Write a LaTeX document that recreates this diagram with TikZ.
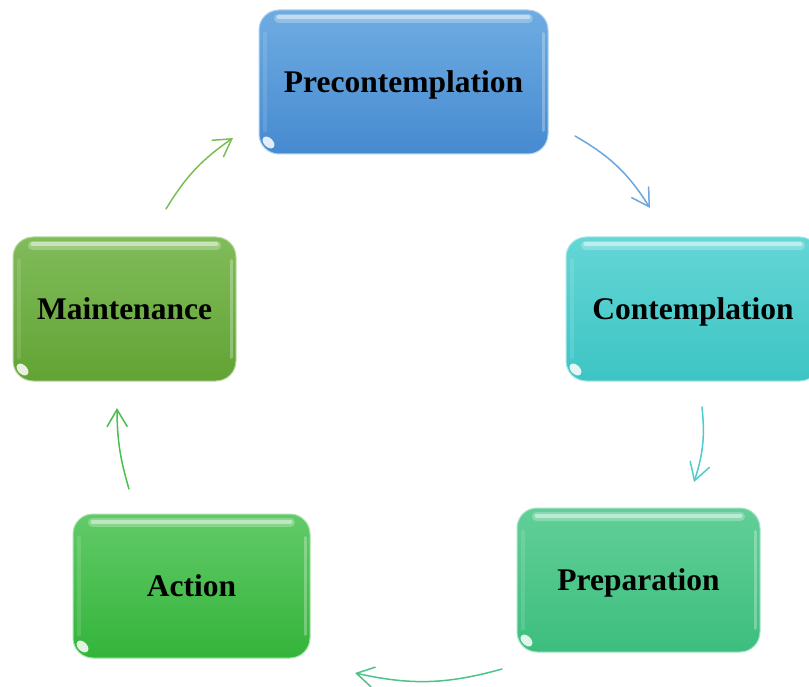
\documentclass[tikz,border=0pt]{standalone}
\usepackage{fontspec}
\setmainfont{Liberation Serif}
\usetikzlibrary{arrows.meta}

% stage colours (top / bottom of each glossy box)
\definecolor{preTop}{RGB}{110,172,226}
\definecolor{preBot}{RGB}{70,138,208}
\definecolor{conTop}{RGB}{100,214,214}
\definecolor{conBot}{RGB}{62,196,196}
\definecolor{prpTop}{RGB}{98,207,152}
\definecolor{prpBot}{RGB}{60,190,126}
\definecolor{actTop}{RGB}{98,202,104}
\definecolor{actBot}{RGB}{52,180,58}
\definecolor{mntTop}{RGB}{128,188,90}
\definecolor{mntBot}{RGB}{98,163,52}
% connector colours
\definecolor{arPre}{RGB}{110,166,222}
\definecolor{arCon}{RGB}{82,202,202}
\definecolor{arPrp}{RGB}{76,196,136}
\definecolor{arAct}{RGB}{72,192,78}
\definecolor{arMnt}{RGB}{124,190,86}

\tikzset{
  stage/.style={rounded corners=20pt, minimum height=144pt, inner sep=0pt,
    text height=21pt, text depth=0pt, line width=1pt,
    font=\fontsize{31.5}{36}\selectfont\bfseries},
  cyc/.style={line width=1.5pt, line cap=round,
    -{Straight Barb[length=17pt,width=20pt,line cap=round]}},
}

% glossy highlights on a stage box
\newcommand\stagegloss[1]{%
  \draw[white, opacity=.25, line width=9pt, line cap=round]
    ([xshift=20pt,yshift=-9pt]#1.north west) -- ([xshift=-20pt,yshift=-9pt]#1.north east);
  \draw[white, opacity=.45, line width=4pt, line cap=round]
    ([xshift=20pt,yshift=-8pt]#1.north west) -- ([xshift=-20pt,yshift=-8pt]#1.north east);
  \draw[white, opacity=.28, line width=3pt, line cap=round]
    ([xshift=-5pt,yshift=-24pt]#1.north east) -- ([xshift=-5pt,yshift=24pt]#1.south east);
  \draw[white, opacity=.12, line width=4pt, line cap=round]
    ([xshift=6pt,yshift=-24pt]#1.north west) -- ([xshift=6pt,yshift=24pt]#1.south west);
  \fill[white, opacity=.85, shift={([xshift=10pt,yshift=12pt]#1.south west)}, rotate=-45]
    (0,0) ellipse [x radius=7pt, y radius=4.5pt];
}

\begin{document}
\begin{tikzpicture}[x=1pt, y=-1pt]
\clip (0,0) rectangle (809,687);
\fill[white] (0,0) rectangle (809,687);

% stages
\node[stage, minimum width=289pt, top color=preTop, bottom color=preBot, draw=preTop!55!white]
  (pre) at (403.5,82) {Precontemplation};
\node[stage, minimum width=254pt, top color=conTop, bottom color=conBot, draw=conTop!55!white]
  (con) at (693,309) {Contemplation};
\node[stage, minimum width=243pt, top color=prpTop, bottom color=prpBot, draw=prpTop!55!white]
  (prp) at (638.5,580) {Preparation};
\node[stage, minimum width=237pt, top color=actTop, bottom color=actBot, draw=actTop!55!white]
  (act) at (191.5,586) {Action};
\node[stage, minimum width=223pt, top color=mntTop, bottom color=mntBot, draw=mntTop!55!white]
  (mnt) at (124.5,309) {Maintenance};

\stagegloss{pre}
\stagegloss{con}
\stagegloss{prp}
\stagegloss{act}
\stagegloss{mnt}

% connector ends around the cycle
\coordinate (a1s) at (575,136); \coordinate (a1e) at (650,208);
\coordinate (a2s) at (702,407); \coordinate (a2e) at (694,482);
\coordinate (a3s) at (502,669); \coordinate (a3e) at (355,673);
\coordinate (a4s) at (129,489); \coordinate (a4e) at (117,408);
\coordinate (a5s) at (166,209); \coordinate (a5e) at (233,138);

\draw[cyc, arPre] (a1s) to[bend left=14] (a1e);
\draw[cyc, arCon] (a2s) to[bend left=12] (a2e);
\draw[cyc, arPrp] (a3s) to[bend left=14] (a3e);
\draw[cyc, arAct] (a4s) to[bend left=8] (a4e);
\draw[cyc, arMnt] (a5s) to[bend left=12] (a5e);
\end{tikzpicture}
\end{document}
